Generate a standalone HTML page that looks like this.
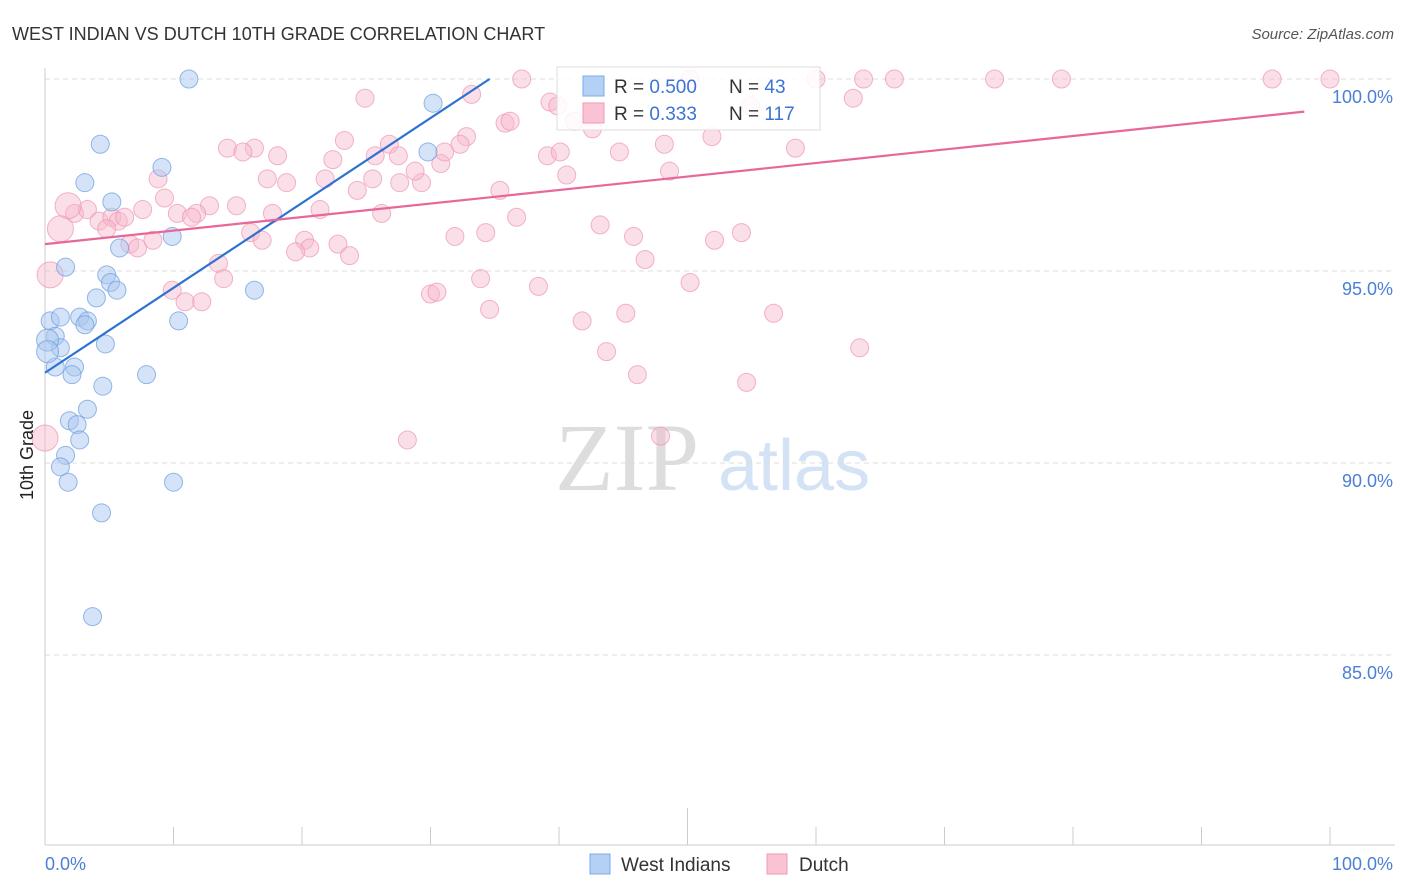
<!DOCTYPE html>
<html><head><meta charset="utf-8">
<style>
body{margin:0;background:#fff;font-family:"Liberation Sans",sans-serif;}
svg{display:block}
</style></head>
<body>
<svg id="chart" width="1406" height="892">
<text x="12" y="40" font-size="18" fill="#333">WEST INDIAN VS DUTCH 10TH GRADE CORRELATION CHART</text>
<text x="1394" y="39" font-size="15" fill="#555" font-style="italic" text-anchor="end">Source: ZipAtlas.com</text>
<g>
<text x="555" y="490" font-size="96" fill="#ddd" font-family="Liberation Serif">ZIP</text>
<text x="718" y="490" font-size="72" fill="#d3e2f5">atlas</text>
</g>
<g id="grid"></g>
<g id="axes"></g>
<g id="pts"></g>
<g id="lines"></g>
<text transform="translate(33,455) rotate(-90)" font-size="18" fill="#222" text-anchor="middle">10th Grade</text>
<g>
<rect x="557" y="67" width="263" height="63" fill="#fff" fill-opacity="0.85" stroke="#ddd"/>
<rect x="583" y="76" width="21" height="20" fill="#b5d0f5" stroke="#7ea9e6"/>
<rect x="583" y="103" width="21" height="20" fill="#f9c3d4" stroke="#ef9ab6"/>
<text x="614" y="93" font-size="19" fill="#333">R = <tspan fill="#3b74d1">0.500</tspan></text>
<text x="729" y="93" font-size="19" fill="#333">N = <tspan fill="#3b74d1"> 43</tspan></text>
<text x="614" y="120" font-size="19" fill="#333">R = <tspan fill="#3b74d1"> 0.333</tspan></text>
<text x="729" y="120" font-size="19" fill="#333">N = <tspan fill="#3b74d1">117</tspan></text>
</g>
<g>
<rect x="590" y="854" width="20" height="20" fill="#b5d0f5" stroke="#7ea9e6"/>
<text x="621" y="871" font-size="19" fill="#333">West Indians</text>
<rect x="767" y="854" width="20" height="20" fill="#f9c3d4" stroke="#ef9ab6"/>
<text x="799" y="871" font-size="19" fill="#333">Dutch</text>
</g>
</svg>
<script>
const yTicks=[100,95,90,85];
const yTickLabels=["100.0%","95.0%","90.0%","85.0%"];
const xTickLabels=["0.0%","100.0%"];
const blueX=[11.2,30.2,4.3,9.1,3.1,5.2,9.9,5.8,1.6,4.8,5.1,5.6,16.3,4.0,0.4,1.2,2.7,3.3,3.1,10.4,0.8,4.7,1.2,2.3,0.8,2.1,7.9,4.5,3.3,1.9,2.5,2.7,1.6,1.2,1.8,10.0,4.4,3.7,29.8,0.2,0.2];
const blueY=[100,99.37,98.3,97.7,97.3,96.8,95.9,95.6,95.1,94.9,94.7,94.5,94.5,94.3,93.7,93.8,93.8,93.7,93.6,93.7,93.3,93.1,93.0,92.5,92.5,92.3,92.3,92.0,91.4,91.1,91.0,90.6,90.2,89.9,89.5,89.5,88.7,86.0,98.1,93.2,92.9];
const blueBig=[39,40];
const pinkX=[37.1,50.2,60.0,63.7,66.1,73.9,79.1,95.5,100,24.9,33.2,39.3,39.9,62.9,54.9,35.8,36.2,41.2,42.6,32.8,32.3,51.9,23.3,14.2,16.3,15.4,18.1,22.4,25.7,26.8,27.5,39.1,40.1,44.7,48.2,58.4,30.8,31.1,8.8,17.3,18.8,21.8,25.5,27.6,24.3,29.3,28.8,35.4,40.6,48.6,9.3,12.8,14.9,17.7,21.4,26.2,7.6,10.3,11.8,11.4,2.3,3.3,4.2,5.2,5.7,6.2,4.8,36.7,43.2,16.0,16.9,20.2,20.6,19.5,22.8,23.7,31.9,34.3,45.8,52.1,54.2,6.6,7.2,8.4,13.5,13.9,46.7,9.9,10.9,12.2,30.0,30.5,33.9,38.4,34.6,41.8,45.2,50.2,56.7,43.7,46.1,54.6,63.4,28.2,47.9,1.8,1.2,0.4,0];
const pinkY=[100,100,100,100,100,100,100,100,100,99.5,99.6,99.4,99.3,99.5,99.3,98.85,98.9,98.9,98.7,98.5,98.3,98.5,98.4,98.2,98.2,98.1,98.0,97.9,98.0,98.3,98.0,98.0,98.1,98.1,98.3,98.2,97.8,98.1,97.4,97.4,97.3,97.4,97.4,97.3,97.1,97.3,97.6,97.1,97.5,97.6,96.9,96.7,96.7,96.5,96.6,96.5,96.6,96.5,96.5,96.4,96.5,96.6,96.3,96.4,96.3,96.4,96.1,96.4,96.2,96.0,95.8,95.8,95.6,95.5,95.7,95.4,95.9,96.0,95.9,95.8,96.0,95.7,95.6,95.8,95.2,94.8,95.3,94.5,94.2,94.2,94.4,94.45,94.8,94.6,94.0,93.7,93.9,94.7,93.9,92.9,92.3,92.1,93.0,90.6,90.7,96.7,96.1,94.9,90.65];
const pinkBig=[105,106,107,108];
const blueLine=[[0,92.35],[34.6,100]];
const pinkLine=[[0,95.7],[98,99.15]];

const X0=45,X1=1330,Y100=79,PPU=38.4;
const sx=v=>X0+(X1-X0)*v/100;
const sy=v=>Y100+(100-v)*PPU;
const NS="http://www.w3.org/2000/svg";
function mk(t,a,p){const e=document.createElementNS(NS,t);for(const k in a)e.setAttribute(k,a[k]);p.appendChild(e);return e;}
const grid=document.getElementById('grid'),axes=document.getElementById('axes');
yTicks.forEach((t,i)=>{
 const l=mk('line',{x1:45,x2:1395,y1:sy(t),y2:sy(t),stroke:'#ddd','stroke-dasharray':'5,4'},grid);
 
 
 const tx=mk('text',{x:1393,y:sy(t)+24,'font-size':18,fill:'#4a7fd6','text-anchor':'end'},axes);
 tx.textContent=yTickLabels[i];
 
 
});
const ax=mk('line',{x1:45,x2:45,y1:68,y2:845,stroke:'#ccc'},axes);


const bx=mk('line',{x1:45,x2:1395,y1:845,y2:845,stroke:'#ccc'},axes);


for(let i=0;i<=10;i++){
 const t=mk('line',{x1:sx(i*10),x2:sx(i*10),y1:(i==5?808:827),y2:845,stroke:'#ccc'},axes);
 
 
}
[[0,'start',45],[100,'end',1393]].forEach((d,i)=>{
 const t=mk('text',{x:d[2],y:870,'font-size':18,fill:'#4a7fd6','text-anchor':d[1]},axes);
 t.textContent=xTickLabels[i];
 
 
});
const pts=document.getElementById('pts');
pinkX.forEach((v,i)=>{
 const c=mk('circle',{cx:sx(v),cy:sy(pinkY[i]),r:pinkBig.includes(i)?13:9,fill:'#f7b7cb','fill-opacity':0.45,stroke:'#ee94b2','stroke-opacity':0.7},pts);
 
 
});
blueX.forEach((v,i)=>{
 const c=mk('circle',{cx:sx(v),cy:sy(blueY[i]),r:blueBig.includes(i)?11:9,fill:'#a9c8f0','fill-opacity':0.5,stroke:'#6a9be0','stroke-opacity':0.7},pts);
 
 
});
const lines=document.getElementById('lines');
const bl=mk('line',{x1:sx(blueLine[0][0]),y1:sy(blueLine[0][1]),x2:sx(blueLine[1][0]),y2:sy(blueLine[1][1]),stroke:'#2d72d2','stroke-width':2.2},lines);


const pl=mk('line',{x1:sx(pinkLine[0][0]),y1:sy(pinkLine[0][1]),x2:sx(pinkLine[1][0]),y2:sy(pinkLine[1][1]),stroke:'#e8679a','stroke-width':2.2},lines);


</script>
</body></html>
